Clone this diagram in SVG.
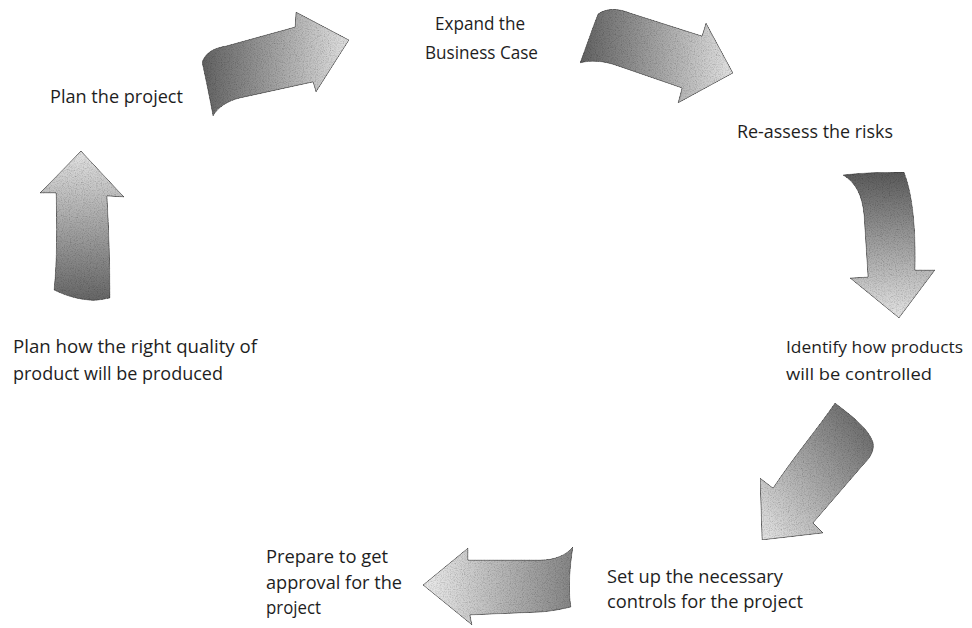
<svg xmlns="http://www.w3.org/2000/svg" width="972" height="628" viewBox="0 0 972 628">
  <style>
    .lbl { font-family: "Open Sans", "Noto Sans", "Liberation Sans", sans-serif; font-size: 19px; fill: #1e1e1e; }
    .tight { font-size: 17px; }
    .arrow { stroke: #3a3a3a; stroke-width: 0.9; stroke-linejoin: round; filter: url(#grain); }
  </style>
  <defs>
    <!-- speckled print texture for the block arrows -->
    <filter id="grain" x="0" y="0" width="100%" height="100%">
      <feTurbulence type="fractalNoise" baseFrequency="0.85" numOctaves="2" seed="7" result="noise"/>
      <feColorMatrix in="noise" type="matrix" values="0.6 0.6 0 0 0.33  0.6 0.6 0 0 0.33  0.6 0.6 0 0 0.33  0 0 0 0 1" result="speck"/>
      <feBlend in="SourceGraphic" in2="speck" mode="multiply" result="mix"/>
      <feComposite in="mix" in2="SourceGraphic" operator="in"/>
    </filter>
    <!-- each gradient runs from the dark tail to the light head -->
    <linearGradient id="gRight" x1="0" y1="0" x2="1" y2="0">
      <stop offset="0" stop-color="#626262"/>
      <stop offset="1" stop-color="#e2e2e2"/>
    </linearGradient>
    <linearGradient id="gDown" x1="0" y1="0" x2="0" y2="1">
      <stop offset="0" stop-color="#5a5a5a"/>
      <stop offset="1" stop-color="#e6e6e6"/>
    </linearGradient>
    <linearGradient id="gDownLeft" x1="1" y1="0" x2="0" y2="1">
      <stop offset="0" stop-color="#5e5e5e"/>
      <stop offset="1" stop-color="#e6e6e6"/>
    </linearGradient>
    <linearGradient id="gLeft" x1="1" y1="0" x2="0" y2="0">
      <stop offset="0" stop-color="#858585"/>
      <stop offset="1" stop-color="#ececec"/>
    </linearGradient>
    <linearGradient id="gUp" x1="0" y1="1" x2="0" y2="0">
      <stop offset="0" stop-color="#666"/>
      <stop offset="1" stop-color="#e4e4e4"/>
    </linearGradient>
  </defs>

  <rect width="972" height="628" fill="#ffffff"/>

  <!-- connectors: curved block arrows running clockwise -->
  <g id="connectors">
    <path id="arrow-plan-to-expand" class="arrow" fill="url(#gRight)"
          d="M202,62 C206,52 214,48 226,46 L295,27 L296,12 L349,40 L316,92 L313,82 L240,98 C228,101 218,107 213,116 C210,100 206,80 202,62 Z"/>
    <path id="arrow-expand-to-risks" class="arrow" fill="url(#gRight)"
          d="M598,14 C606,8 618,8 630,13 L702,36 L706,23 L733,73 L678,103 L682,88 L618,66 C605,61 590,60 580,63 C586,47 592,29 598,14 Z"/>
    <path id="arrow-risks-to-products" class="arrow" fill="url(#gDown)"
          d="M843,175 C858,173 882,172 904,172 C913,195 916,230 915,270 L935,270 L899,318 L850,278 L868,277 L864,215 C862,195 856,183 843,175 Z"/>
    <path id="arrow-products-to-controls" class="arrow" fill="url(#gDownLeft)"
          d="M835,403 C852,416 868,428 873,442 C875,451 870,458 863,465 L813,523 L823,533 L762,540 L760,478 L773,488 C795,455 818,428 835,403 Z"/>
    <path id="arrow-controls-to-approval" class="arrow" fill="url(#gLeft)"
          d="M573,547 C566,555 555,560 540,560 L468,560 L468,548 L423,585 L472,625 L470,615 L542,612 C553,611 563,609 571,607 C568,590 570,565 573,547 Z"/>
    <path id="arrow-quality-to-plan" class="arrow" fill="url(#gUp)"
          d="M81,151 L124,197 L107,196 C109,230 110,265 110,298 C100,300 95,301 88,300 C76,299 64,295 54,290 C57,260 57,225 56,193 L40,193 Z"/>
  </g>

  <g id="node-plan-project">
    <text class="lbl" x="50" y="103" textLength="133" lengthAdjust="spacingAndGlyphs">Plan the project</text>
  </g>
  <g id="node-expand-business-case">
    <text class="lbl" x="435" y="30" textLength="90" lengthAdjust="spacingAndGlyphs">Expand the</text>
    <text class="lbl" x="425" y="59" textLength="113" lengthAdjust="spacingAndGlyphs">Business Case</text>
  </g>
  <g id="node-reassess-risks">
    <text class="lbl" x="737" y="138" textLength="156" lengthAdjust="spacingAndGlyphs">Re-assess the risks</text>
  </g>
  <g id="node-identify-products">
    <text class="lbl tight" x="786" y="353" textLength="177" lengthAdjust="spacingAndGlyphs">Identify how products</text>
    <text class="lbl tight" x="786" y="380" textLength="146" lengthAdjust="spacingAndGlyphs">will be controlled</text>
  </g>
  <g id="node-setup-controls">
    <text class="lbl" x="607" y="583" textLength="176" lengthAdjust="spacingAndGlyphs">Set up the necessary</text>
    <text class="lbl" x="607" y="608" textLength="196" lengthAdjust="spacingAndGlyphs">controls for the project</text>
  </g>
  <g id="node-prepare-approval">
    <text class="lbl" x="266" y="563" textLength="122" lengthAdjust="spacingAndGlyphs">Prepare to get</text>
    <text class="lbl" x="266" y="589" textLength="136" lengthAdjust="spacingAndGlyphs">approval for the</text>
    <text class="lbl" x="266" y="614" textLength="55" lengthAdjust="spacingAndGlyphs">project</text>
  </g>
  <g id="node-plan-quality">
    <text class="lbl" x="13" y="353" textLength="244" lengthAdjust="spacingAndGlyphs">Plan how the right quality of</text>
    <text class="lbl" x="13" y="380" textLength="210" lengthAdjust="spacingAndGlyphs">product will be produced</text>
  </g>
</svg>
